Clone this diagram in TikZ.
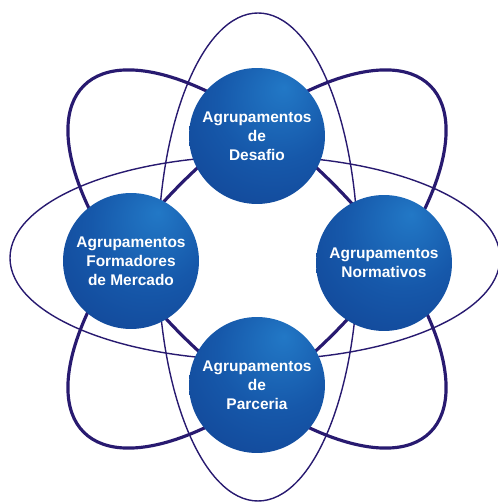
\documentclass[tikz,border=0pt]{standalone}
\usepackage{fontspec}
\setmainfont{Liberation Sans}
\definecolor{orbit}{RGB}{40,26,112}
\definecolor{sphlight}{RGB}{34,120,198}
\definecolor{sphmid}{RGB}{22,88,170}
\definecolor{sphdark}{RGB}{14,52,132}
\pgfdeclareradialshading{sphere}{\pgfpoint{10bp}{18bp}}{color(0bp)=(sphlight); color(22bp)=(sphmid); color(62bp)=(sphdark); color(75bp)=(sphdark)}

\begin{document}
\begin{tikzpicture}[scale=0.02,
    thinorbit/.style={draw=orbit, line width=0.8pt},
    thickorbit/.style={draw=orbit, line width=1.8pt},
    group/.style={circle, minimum size=2.72cm, inner sep=0pt, shading=sphere,
      text=white, align=center, font=\bfseries\fontsize{8.8}{10.8}\selectfont}]
    \useasboundingbox (0, 0) rectangle (498, 502);
    % Thin orbits
    \draw[thinorbit] (258, 245) ellipse [x radius=100, y radius=244];
    \draw[thinorbit] (255, 244) ellipse [x radius=245, y radius=102];
    % Thick orbits
    \draw[thickorbit, rotate around={-45:(257, 243)}] (257, 243) ellipse [x radius=245, y radius=107];
    \draw[thickorbit, rotate around={45:(257, 243)}] (257, 243) ellipse [x radius=245, y radius=107];
    % Groups
    \node[group] (desafio) at (257, 366) {Agrupamentos\\de\\Desafio};
    \node[group] (mercado) at (131, 241) {Agrupamentos\\Formadores\\de Mercado};
    \node[group] (normativos) at (384, 239) {Agrupamentos\\Normativos};
    \node[group] (parceria) at (257, 117) {Agrupamentos\\de\\Parceria};
\end{tikzpicture}
\end{document}
